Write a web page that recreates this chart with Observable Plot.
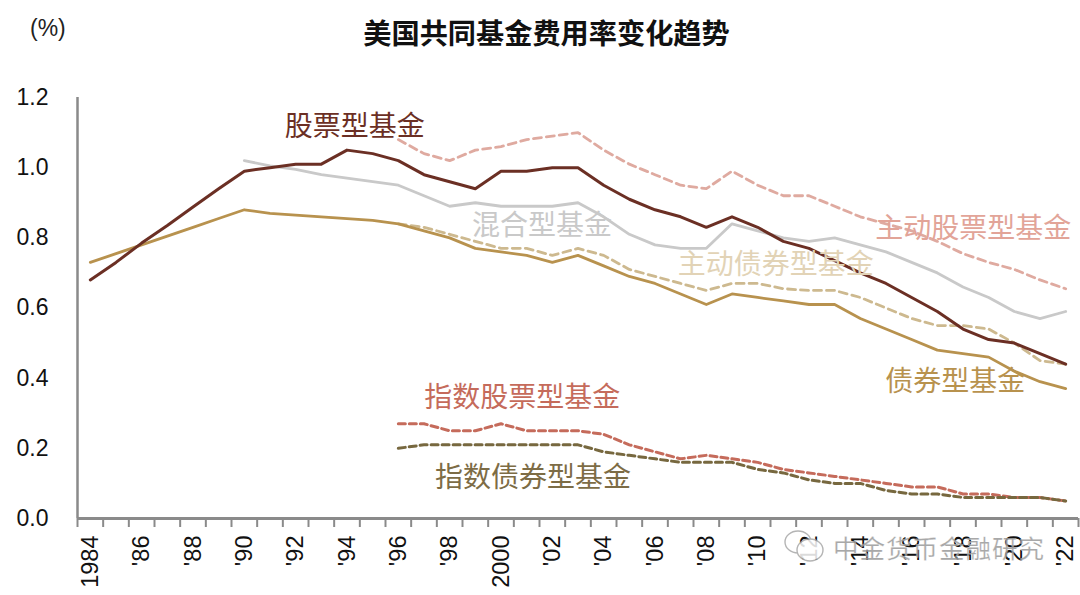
<!DOCTYPE html>
<html><head><meta charset="utf-8">
<script src="https://cdn.jsdelivr.net/npm/d3@7"></script>
<script src="https://cdn.jsdelivr.net/npm/@observablehq/plot@0.6"></script>
<style>
html,body{margin:0;padding:0;background:#fff;width:1080px;height:595px;overflow:hidden}
#wrap{position:relative;width:1080px;height:595px;font-family:"Liberation Sans","Noto Sans CJK SC",sans-serif}
#head{height:60px;position:relative}
#title{position:absolute;left:0;width:1093px;top:15px;text-align:center;font:700 28.2px "Noto Sans CJK SC",sans-serif;color:#111;line-height:34px;white-space:nowrap}
#unit{position:absolute;left:30px;top:15px;font:23px "Liberation Sans",sans-serif;color:#222}
#mark{position:absolute;left:783px;top:528px;display:flex;align-items:center;gap:8px;font:25.5px "Noto Sans CJK SC",sans-serif;color:#9a9a9a;opacity:.85;white-space:nowrap;letter-spacing:1px;-webkit-text-stroke:.2px #fff}
svg{display:block}
</style></head><body>
<div id="wrap">
<div id="head"><div id="unit">(%)</div><div id="title">美国共同基金费用率变化趋势</div></div>
<div id="chart"></div>
<div id="mark"><svg width="42" height="36" viewBox="0 0 42 36"><g fill="none" stroke="#a8a8a8" stroke-width="1.4"><ellipse cx="15" cy="13" rx="13" ry="11"/><ellipse cx="27" cy="21" rx="13" ry="11" fill="#fff"/></g></svg><span>中金货币金融研究</span></div>
</div>
<script>
const years = d3.range(1984, 2023);
const equity = [.68,.73,.785,.835,.888,.94,.99,1.00,1.01,1.01,1.05,1.04,1.02,.98,.96,.94,.99,.99,1.00,1.00,.95,.91,.88,.86,.83,.86,.83,.79,.77,.735,.70,.67,.63,.59,.54,.51,.50,.47,.44];
const bond = [.73,.755,.78,.805,.83,.855,.88,.87,.865,.86,.855,.85,.84,.82,.80,.77,.76,.75,.73,.75,.72,.69,.67,.64,.61,.64,.63,.62,.61,.61,.57,.54,.51,.48,.47,.46,.42,.39,.37];
const mixedYears = d3.range(1990, 2023);
const mixed = [1.02,1.005,.995,.98,.97,.96,.95,.92,.89,.90,.89,.89,.89,.90,.86,.81,.78,.77,.77,.84,.82,.80,.79,.80,.78,.76,.73,.70,.66,.63,.59,.57,.59];
const lateYears = d3.range(1996, 2023);
const activeEquity = [1.08,1.04,1.02,1.05,1.06,1.08,1.09,1.10,1.05,1.01,.98,.95,.94,.99,.95,.92,.92,.89,.86,.84,.82,.79,.755,.73,.71,.68,.655];
const activeBond = [.84,.83,.81,.79,.77,.77,.75,.77,.75,.71,.69,.67,.65,.67,.67,.655,.65,.65,.63,.60,.57,.55,.55,.54,.50,.45,.44];
const indexEquity = [.27,.27,.25,.25,.27,.25,.25,.25,.24,.21,.19,.17,.18,.17,.16,.14,.13,.12,.11,.10,.09,.09,.07,.07,.06,.06,.05];
const indexBond = [.20,.21,.21,.21,.21,.21,.21,.21,.19,.18,.17,.16,.16,.16,.14,.13,.11,.10,.10,.08,.07,.07,.06,.06,.06,.06,.05];

const series = [
  {name:"主动股票型基金", xs:lateYears, ys:activeEquity, color:"#dfaaa0", dash:"8 5", w:2.8, lx:2018.4, ly:.825, lc:"#e2a498"},
  {name:"混合型基金", xs:mixedYears, ys:mixed, color:"#c9c9c9", dash:null, w:2.8, lx:2001.6, ly:.835, lc:"#c9c9c9"},
  {name:"主动债券型基金", xs:lateYears, ys:activeBond, color:"#cdb98f", dash:"8 5", w:2.8, lx:2010.7, ly:.723, lc:"#e2d3b6"},
  {name:"债券型基金", xs:years, ys:bond, color:"#b8924e", dash:null, w:2.8, lx:2017.7, ly:.39, lc:"#b8924e"},
  {name:"股票型基金", xs:years, ys:equity, color:"#6b2f24", dash:null, w:3, lx:1994.3, ly:1.117, lc:"#6b2f24"},
  {name:"指数股票型基金", xs:lateYears, ys:indexEquity, color:"#c56b5b", dash:"7 4", w:3, lx:2000.83, ly:.342, lc:"#c56b5b"},
  {name:"指数债券型基金", xs:lateYears, ys:indexBond, color:"#77683f", dash:"7 4", w:3, lx:2001.25, ly:.115, lc:"#7d6c45"}
];

const labelYears = years.filter(y => y % 2 === 0);
const fmt = y => (y === 1984 || y === 2000) ? String(y) : "'" + String(y).slice(2);
const edges = d3.range(1983.5, 2023, 1);

const chart = Plot.plot({
  width: 1080, height: 535,
  marginLeft: 77, marginRight: 2, marginTop: 37, marginBottom: 77,
  style: {fontFamily: '"Liberation Sans",sans-serif', background: "#fff", color: "#111", overflow: "visible"},
  x: {domain: [1983.5, 2022.5], label: null},
  y: {domain: [0, 1.2], label: null},
  marks: [
    Plot.axisY({ticks: [0,.2,.4,.6,.8,1,1.2], tickFormat: d3.format(".1f"), tickSize: 0, tickPadding: 29, fontSize: 23, label: null}),
    Plot.axisX({ticks: edges, tickFormat: () => "", tickSize: 9, stroke: "#8a8a8a", strokeWidth: 2, label: null}),
    Plot.axisX({ticks: labelYears, tickFormat: fmt, tickSize: 0, tickPadding: 17, tickRotate: -90, fontSize: 23.5, label: null}),
    Plot.ruleY([0], {stroke: "#8a8a8a", strokeWidth: 3}),
    Plot.ruleX([1983.5], {stroke: "#8a8a8a", strokeWidth: 2.5}),
    ...series.map(s => Plot.lineY(s.xs.map((x,i) => ({x, y: s.ys[i]})), {
      x: "x", y: "y", stroke: s.color, strokeWidth: s.w, strokeDasharray: s.dash, strokeLinejoin: "round"
    })),
    ...series.map(s => Plot.text([s.name], {
      x: () => s.lx, y: () => s.ly, text: d => d, fill: s.lc, fontSize: 28,
      fontFamily: '"Noto Sans CJK SC",sans-serif', textAnchor: "middle"
    }))
  ]
});
document.getElementById("chart").appendChild(chart);
</script>
</body></html>
